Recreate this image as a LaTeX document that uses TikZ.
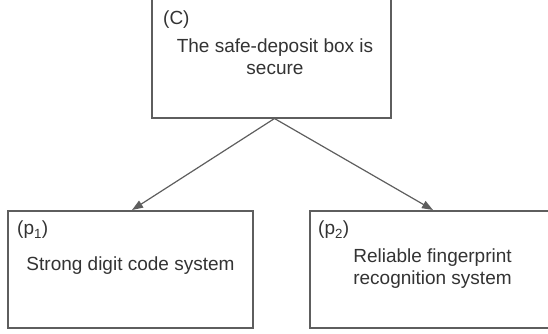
\documentclass[tikz,border=0pt]{standalone}
\usepackage{fontspec}
\setmainfont{Liberation Sans}
\usepackage{xcolor}
\usepackage{tikz}
\usetikzlibrary{arrows.meta}

\definecolor{edgegray}{HTML}{5E5E5E}
\definecolor{textgray}{HTML}{333333}

\begin{document}
\begin{tikzpicture}[x=1pt,y=-1pt,font=\fontsize{19}{22}\selectfont,
  box/.style={draw=edgegray,line width=2pt,fill=white,inner sep=0pt},
  txt/.style={text=textgray,inner sep=0pt,align=center},
  tag/.style={text=textgray,inner sep=0pt,anchor=west},
  link/.style={draw=edgegray,line width=1.2pt,-{Triangle[length=11pt,width=8pt]}}]
\useasboundingbox (0,0) rectangle (548,333);
% boxes
\node[box,minimum width=239pt,minimum height=121pt] (C) at (271.5,57) {};
\node[box,minimum width=245pt,minimum height=117pt] (p1) at (130.5,269.5) {};
\node[box,minimum width=250pt,minimum height=117pt] (p2) at (435,269.5) {};
% texts
\node[tag] (Ctag) at (163,20) {(C)};
\node[txt] (Ctxt) at (275,57) {The safe-deposit box is\\secure};
\node[tag] (p1tag) at (17,230) {(p\textsubscript{1})};
\node[txt] (p1txt) at (130.5,266) {Strong digit code system};
\node[tag] (p2tag) at (318,230) {(p\textsubscript{2})};
\node[txt] (p2txt) at (432.5,269) {Reliable fingerprint\\recognition system};
% arrows
\draw[link] ([xshift=3pt]C.south) -- ([xshift=1.5pt]p1.north);
\draw[link] ([xshift=3pt]C.south) -- ([xshift=-2pt]p2.north);
\end{tikzpicture}
\end{document}
